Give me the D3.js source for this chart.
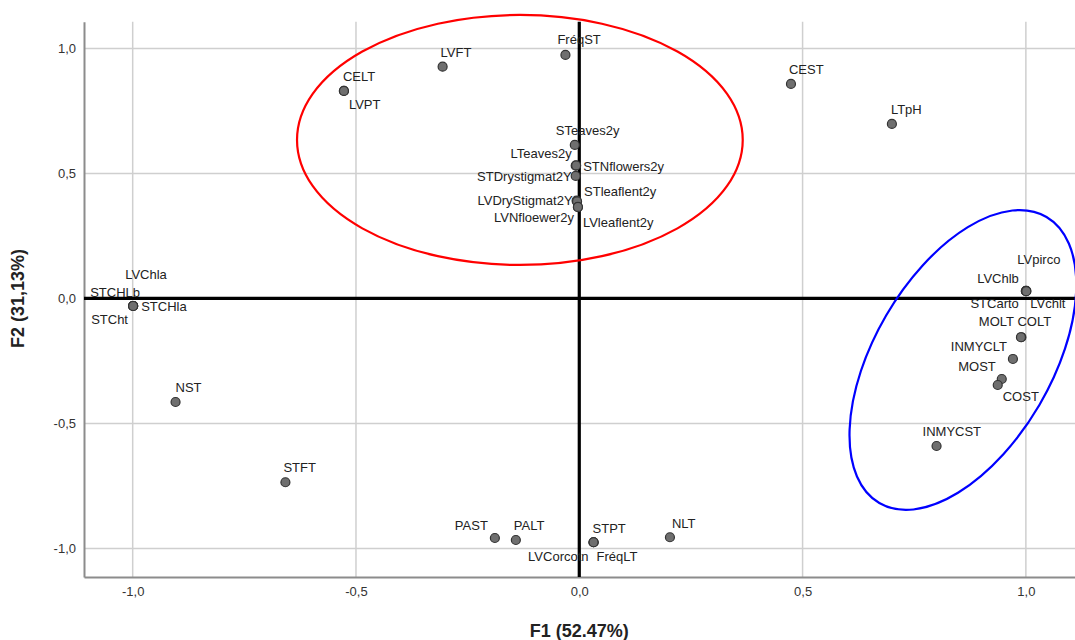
<!DOCTYPE html>
<html>
<head>
<meta charset="utf-8">
<script src="https://cdn.jsdelivr.net/npm/d3@7"></script>
<style>
  html, body { margin: 0; padding: 0; background: #fff; }
  svg { display: block; font-family: "Liberation Sans", Arial, sans-serif; }
</style>
</head>
<body>
<svg id="chart" width="1075" height="640"></svg>
<script>
// ---- Data (loadings) ----
const variables = ["CELT","LVPT","LVFT","FréqST","CEST","LTpH",
  "STeaves2y","LTeaves2y","STNflowers2y","STDrystigmat2Y","LVDryStigmat2Y","STleaflent2y","LVNfloewer2y","LVleaflent2y",
  "LVpirco","LVChlb","STCarto","LVchlt","COLT","MOLT","INMYCLT","MOST","COST","INMYCST",
  "LVChla","STCHLb","STCHla","STCht","NST","STFT",
  "PAST","PALT","STPT","LVCorcotn","FréqLT","NLT"];
const f1 = [-0.527,-0.527,-0.306,-0.031,0.474,0.700,
  -0.010,-0.008,-0.007,-0.008,-0.006,-0.005,-0.003,-0.003,
  1.001,1.000,1.000,1.001,0.990,0.989,0.971,0.946,0.937,0.800,
  -0.999,-0.999,-0.999,-0.999,-0.904,-0.658,
  -0.189,-0.142,0.032,0.032,0.032,0.203];
const f2 = [0.830,0.830,0.927,0.974,0.858,0.698,
  0.614,0.531,0.532,0.490,0.391,0.388,0.365,0.366,
  0.030,0.030,0.029,0.029,-0.155,-0.155,-0.242,-0.322,-0.346,-0.590,
  -0.030,-0.030,-0.030,-0.030,-0.414,-0.735,
  -0.958,-0.966,-0.975,-0.975,-0.975,-0.955];
const xTicks = [-1.0, -0.5, 0.0, 0.5, 1.0];
const yTicks = [-1.0, -0.5, 0.0, 0.5, 1.0];
const xTitle = "F1 (52.47%)";
const yTitle = "F2 (31,13%)";
// Group ellipses (centre in F1/F2 units, radii in F1 / F2 units, rotation in degrees)
const ellipseCx = [-0.133, 0.859];
const ellipseCy = [0.634, -0.246];
const ellipseRx = [0.499, 0.371];
const ellipseRy = [0.500, 0.355];
const ellipseRot = [0, -59.7];
const ellipseColor = ["#ff0000", "#0000ff"];

// ---- Label placement (style only: pixel offsets from each point) ----
const labelPos = {
  "CELT":[-1,-10,"start"], "LVPT":[5,18,"start"], "LVFT":[-2,-10,"start"], "FréqST":[-8,-11,"start"],
  "CEST":[-2,-10,"start"], "LTpH":[-1,-10,"start"],
  "STeaves2y":[-19,-10,"start"], "LTeaves2y":[-4,-8,"end"], "STNflowers2y":[7,6,"start"],
  "STDrystigmat2Y":[-4,5,"end"], "LVDryStigmat2Y":[-4,4,"end"], "STleaflent2y":[7,-5,"start"],
  "LVNfloewer2y":[-4,15,"end"], "LVleaflent2y":[5,20,"start"],
  "LVpirco":[-9,-27,"start"], "LVChlb":[-7,-8,"end"], "STCarto":[-7,17,"end"], "LVchlt":[4,17,"start"],
  "COLT":[-4,-11,"start"], "MOLT":[-7,-11,"end"], "INMYCLT":[-6,-8,"end"], "MOST":[-6,-8,"end"],
  "COST":[5,16,"start"], "INMYCST":[-14,-10,"start"],
  "LVChla":[-8,-27,"start"], "STCHLb":[-43,-9,"start"], "STCHla":[8,5,"start"], "STCht":[-42,18,"start"],
  "NST":[0,-10,"start"], "STFT":[-2,-10,"start"],
  "PAST":[-7,-8,"end"], "PALT":[-2,-10,"start"], "STPT":[-1,-9,"start"],
  "LVCorcotn":[-5,19,"end"], "FréqLT":[3,19,"start"], "NLT":[2,-9,"start"]
};

const svg = d3.select("#chart");
const padL = 84, padR = 1075, padT = 21.7, padB = 577;
const x = d3.scaleLinear().domain([-1.109, 1.110]).range([padL, padR]);
const y = d3.scaleLinear().domain([-1.114, 1.107]).range([padB, padT]);
const fmt = v => d3.format(".1f")(v).replace(".", ",").replace("−", "-");

// gridlines
svg.append("g").selectAll("line").data(xTicks.filter(d => d !== 0)).join("line")
  .attr("x1", d => x(d)).attr("x2", d => x(d)).attr("y1", padT).attr("y2", padB)
  .attr("stroke", "#cfcfcf").attr("stroke-width", 1.5);
svg.append("g").selectAll("line").data(yTicks.filter(d => d !== 0)).join("line")
  .attr("x1", padL).attr("x2", padR).attr("y1", d => y(d)).attr("y2", d => y(d))
  .attr("stroke", "#cfcfcf").attr("stroke-width", 1.5);

// axes
const xAxis = d3.axisBottom(x).tickValues(xTicks).tickFormat(fmt).tickSize(0).tickPadding(10);
const gx = svg.append("g").attr("transform", `translate(0,${padB})`).call(xAxis);
gx.select(".domain").attr("stroke", "#8c8c8c").attr("stroke-width", 2);
gx.selectAll("text").attr("font-size", 13).attr("fill", "#333").attr("font-family", "Liberation Sans, Arial, sans-serif");
const yAxis = d3.axisLeft(y).tickValues(yTicks).tickFormat(fmt).tickSize(0).tickPadding(8);
const gy = svg.append("g").attr("transform", `translate(${padL},0)`).call(yAxis);
gy.select(".domain").attr("stroke", "#8c8c8c").attr("stroke-width", 2);
gy.selectAll("text").attr("font-size", 13).attr("fill", "#333").attr("font-family", "Liberation Sans, Arial, sans-serif");

// reference lines at 0
svg.append("line").attr("x1", x(0)).attr("x2", x(0)).attr("y1", padT).attr("y2", padB)
  .attr("stroke", "#000").attr("stroke-width", 3.2);
svg.append("line").attr("x1", padL).attr("x2", padR).attr("y1", y(0)).attr("y2", y(0))
  .attr("stroke", "#000").attr("stroke-width", 3.2);

// ellipses
const kx = x(1) - x(0), ky = y(0) - y(1);
svg.append("g").selectAll("ellipse").data(ellipseCx.map((d, i) => i)).join("ellipse")
  .attr("cx", i => x(ellipseCx[i])).attr("cy", i => y(ellipseCy[i]))
  .attr("rx", i => ellipseRx[i] * kx).attr("ry", i => ellipseRy[i] * ky)
  .attr("transform", i => `rotate(${ellipseRot[i]},${x(ellipseCx[i])},${y(ellipseCy[i])})`)
  .attr("fill", "none").attr("stroke", i => ellipseColor[i]).attr("stroke-width", 2.2);

// points
const pts = variables.map((n, i) => ({ name: n, f1: f1[i], f2: f2[i] }));
svg.append("g").selectAll("circle").data(pts).join("circle")
  .attr("cx", d => x(d.f1)).attr("cy", d => y(d.f2)).attr("r", 4.5)
  .attr("fill", "#6f6f6f").attr("stroke", "#333").attr("stroke-width", 1.2);

// labels
svg.append("g").selectAll("text").data(pts).join("text")
  .attr("x", d => x(d.f1) + labelPos[d.name][0])
  .attr("y", d => y(d.f2) + labelPos[d.name][1])
  .attr("text-anchor", d => labelPos[d.name][2])
  .attr("font-size", 13).attr("fill", "#222")
  .text(d => d.name);

// axis titles
svg.append("text").attr("x", x(0)).attr("y", 637).attr("text-anchor", "middle")
  .attr("font-size", 18).attr("font-weight", "bold").attr("fill", "#222").text(xTitle);
svg.append("text").attr("transform", `translate(24,${y(0)}) rotate(-90)`).attr("text-anchor", "middle")
  .attr("font-size", 18).attr("font-weight", "bold").attr("fill", "#222").text(yTitle);
</script>
</body>
</html>
